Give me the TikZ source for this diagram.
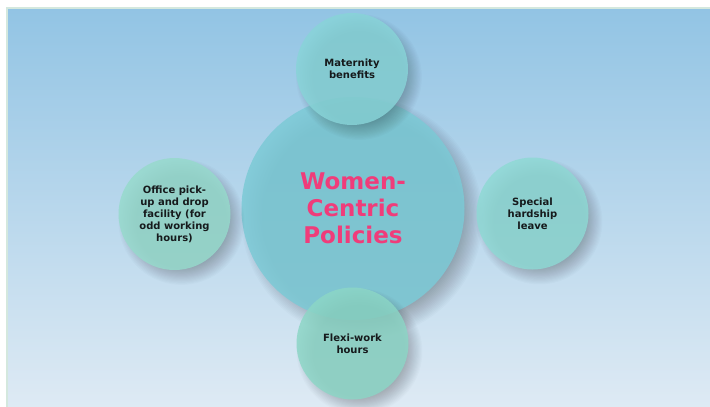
\documentclass[tikz,border=0pt]{standalone}
\usepackage{fontspec}
\setmainfont{DejaVu Sans}
\definecolor{bgtop}{RGB}{146,196,228}
\definecolor{bgbot}{RGB}{222,234,244}
\definecolor{bgedge}{RGB}{212,232,222}
\definecolor{centfill}{RGB}{124,202,214}
\definecolor{sattop}{RGB}{136,212,216}
\definecolor{satright}{RGB}{142,217,212}
\definecolor{satleft}{RGB}{150,218,204}
\definecolor{satbot}{RGB}{140,214,198}
\definecolor{pinktxt}{RGB}{240,60,122}
\definecolor{darktxt}{RGB}{22,26,28}
\newcommand\mysoftshadow[4]{% x, y, radius, spread
  \foreach \k in {1,...,16}{%
    \fill[black, opacity=0.016] (#1,#2) circle ({#3+#4*(1-\k/16)});
  }%
}
\begin{document}
\begin{tikzpicture}[x=1pt,y=-1pt,
  bubble/.style={circle, inner sep=0pt, minimum size=112pt, fill opacity=0.84, text opacity=1,
    font=\bfseries\fontsize{10}{12}\selectfont, align=center, text=darktxt},
  hub/.style={circle, inner sep=0pt, minimum size=223pt, fill=centfill, fill opacity=0.86, text opacity=1,
    font=\bfseries\fontsize{23}{27}\selectfont, align=center, text=pinktxt}]
\useasboundingbox (0,0) rectangle (710,407);
\fill[white] (0,0) rectangle (710,407);
\shade[top color=bgtop, bottom color=bgbot] (7,8) rectangle (710,407);
\draw[bgedge, line width=1.2pt] (7,407) -- (7,8) -- (710,8);
\mysoftshadow{362}{218}{100}{22}
\node[hub] (hub) at (353,208.5) {Women-\\Centric\\Policies};
\mysoftshadow{359}{77}{46}{18}
\mysoftshadow{539.5}{221.5}{46}{18}
\mysoftshadow{181.5}{222}{46}{18}
\mysoftshadow{359.5}{351.5}{46}{18}
\node[bubble, fill=sattop] (top) at (352,69) {Maternity\\benefits};
\node[bubble, fill=satright] (right) at (532.5,213.5) {Special\\hardship\\leave};
\node[bubble, fill=satleft] (left) at (174.5,214) {Office pick-\\up and drop\\facility (for\\odd working\\hours)};
\node[bubble, fill=satbot] (bottom) at (352.5,343.5) {Flexi-work\\hours};
\end{tikzpicture}
\end{document}
